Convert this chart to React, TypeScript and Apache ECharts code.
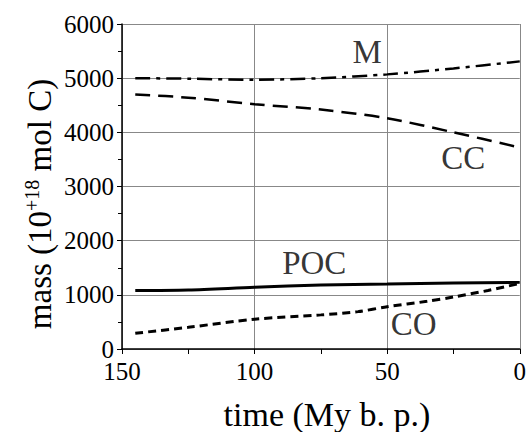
import React, { useEffect, useRef } from "react";
import * as echarts from "echarts";

const times = [145, 125, 100, 75, 50, 25, 0];
const mValues = [5000, 4990, 4970, 5000, 5070, 5180, 5310];
const ccValues = [4700, 4640, 4520, 4420, 4260, 4000, 3720];
const pocValues = [1080, 1090, 1140, 1180, 1200, 1220, 1230];
const coTimes = [145, 125, 100, 75, 61, 50, 35, 25, 12, 0];
const coValues = [290, 400, 550, 630, 690, 780, 880, 960, 1080, 1210];

const labels = [
  { text: "M", x: 57.5, y: 5480 },
  { text: "CC", x: 21.3, y: 3520 },
  { text: "POC", x: 77.5, y: 1590 },
  { text: "CO", x: 40, y: 460 },
];

const xTitle = "time (My b. p.)";
const yTitle = "mass (10{sup|+18} mol C)";

const serif = "'Liberation Serif', 'Times New Roman', serif";

function zip(xs: number[], ys: number[]) {
  return xs.map((x, i) => [x, ys[i]]);
}

export default function App() {
  const ref = useRef<HTMLDivElement>(null);
  useEffect(() => {
    if (!ref.current) return;
    const chart = echarts.init(ref.current, undefined, { renderer: "svg" });
    const base = { type: "line", symbol: "none", smooth: 0.3, silent: true };
    chart.setOption({
      animation: false,
      backgroundColor: "#ffffff",
      textStyle: { fontFamily: serif },
      grid: { left: 122, right: 6, top: 24, bottom: 83 },
      graphic: [
        {
          type: "text",
          x: 327,
          y: 414,
          style: {
            text: xTitle,
            fontSize: 34,
            fontFamily: serif,
            fill: "#000",
            align: "center",
            verticalAlign: "middle",
          },
        },
        {
          type: "text",
          x: 40,
          y: 204,
          rotation: Math.PI / 2,
          style: {
            text: yTitle,
            fontSize: 33,
            fontFamily: serif,
            fill: "#000",
            align: "center",
            verticalAlign: "middle",
            rich: {
              sup: { fontSize: 20, fill: "#000", fontFamily: serif, padding: [0, 0, 16, 0] },
            },
          },
        },
      ],
      xAxis: {
        type: "value",
        min: 0,
        max: 150,
        interval: 50,
        inverse: true,
        axisLine: { show: true, onZero: false, lineStyle: { color: "#000", width: 1.5 } },
        axisTick: { show: true, inside: false, length: 5, lineStyle: { color: "#000" } },
        minorTick: { show: true, splitNumber: 2, length: 5, lineStyle: { color: "#000" } },
        axisLabel: {
          fontSize: 25,
          lineHeight: 16,
          color: "#000",
          margin: 14,
          fontFamily: serif,
          formatter: (v: number) => String(v),
        },
        splitLine: { show: true, lineStyle: { color: "#888", width: 1 } },
      },
      yAxis: {
        type: "value",
        min: 0,
        max: 6000,
        interval: 1000,
        axisLine: { show: true, onZero: false, lineStyle: { color: "#000", width: 1.5 } },
        axisTick: { show: true, length: 5, lineStyle: { color: "#000" } },
        minorTick: { show: true, splitNumber: 2, length: 4, lineStyle: { color: "#000" } },
        axisLabel: {
          fontSize: 25,
          lineHeight: 16,
          color: "#000",
          margin: 8,
          fontFamily: serif,
          formatter: (v: number) => String(v),
        },
        splitLine: { show: true, lineStyle: { color: "#888", width: 1 } },
      },
      series: [
        {
          ...base,
          name: "M",
          data: zip(times, mValues),
          lineStyle: { color: "#000", width: 2.5, type: [15, 6, 4, 6] },
        },
        {
          ...base,
          name: "CC",
          data: zip(times, ccValues),
          lineStyle: { color: "#000", width: 2.5, type: [15, 8] },
        },
        {
          ...base,
          name: "POC",
          data: zip(times, pocValues),
          lineStyle: { color: "#000", width: 3, type: "solid" },
        },
        {
          ...base,
          name: "CO",
          data: zip(coTimes, coValues),
          lineStyle: { color: "#000", width: 3, type: [8, 5] },
        },
        {
          type: "scatter",
          symbolSize: 0,
          silent: true,
          data: labels.map((l) => ({
            value: [l.x, l.y],
            label: {
              show: true,
              formatter: l.text,
              position: "inside",
              fontSize: 33,
              color: "#000",
              fontFamily: serif,
            },
          })),
        },
      ],
    });
    return () => chart.dispose();
  }, []);
  return <div ref={ref} style={{ width: 529, height: 432, position: "absolute", left: 0, top: 0 }} />;
}
